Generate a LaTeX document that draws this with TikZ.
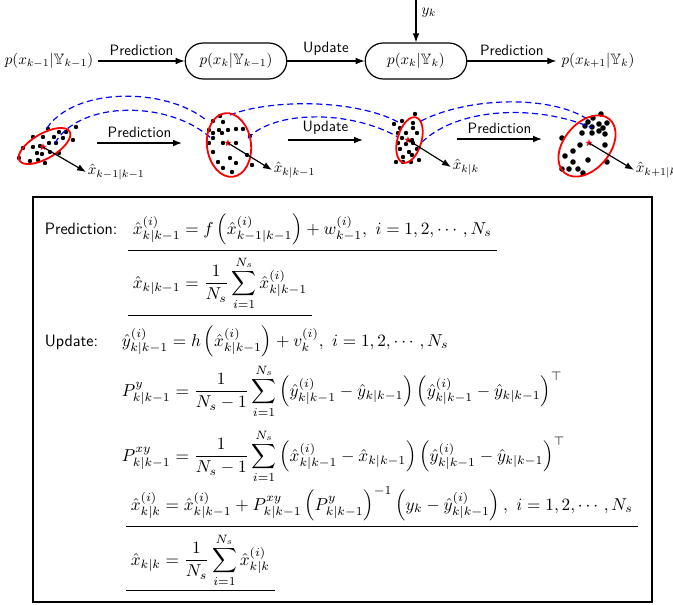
\documentclass[tikz,border=0pt]{standalone}
\usepackage{amsmath,amssymb,graphicx}
\usetikzlibrary{arrows.meta,positioning,shapes.geometric}
\newcommand{\pfmath}[1]{\scalebox{1.15}{$#1$}}

\begin{document}
\begin{tikzpicture}[x=0.667pt,y=-0.667pt,
  pfpdf/.style={draw,thick,rounded corners=12pt,minimum width=67.7pt,minimum height=24pt},
  pfarr/.style={-{Latex[length=6pt,width=4.5pt]},thick},
  pfcloud/.style={red,line width=1.2pt},
  pflink/.style={blue,thick,dash pattern=on 4pt off 2.5pt},
  pfstar/.style={star,star points=5,star point ratio=2.4,fill=red,inner sep=0pt,minimum size=5pt},
  pfword/.style={font=\sffamily},
  pfbig/.style={font=\fontsize{11}{13}\selectfont\sffamily},
  pfeq/.style={anchor=base west,inner sep=1pt},
  pfline/.style={shorten <=-2pt,shorten >=-2pt}
]
  \useasboundingbox (0,0) rectangle (673,605);
  % density chain (top)
  \node (pk1) at (49,61) {$p(x_{k-1}|\mathbb{Y}_{k-1})$};
  \node[pfpdf] (pa) at (236,61) {$p(x_k|\mathbb{Y}_{k-1})$};
  \node[pfpdf] (pb) at (416,61) {$p(x_k|\mathbb{Y}_k)$};
  \node (pk2) at (598,61) {$p(x_{k+1}|\mathbb{Y}_k)$};
  \coordinate (ytop) at (416,0);
  \draw[pfarr] (pk1) -- node[above,pfword] {Prediction} (pa);
  \draw[pfarr] (pa) -- node[above,pfword] {Update} (pb);
  \draw[pfarr] (pb) -- node[above,pfword] {Prediction} (pk2);
  \draw[pfarr] (ytop) -- node[pos=0.3,right] {$y_k$} (pb);

  % particle clouds (middle)
  \foreach \p in {(48,129),(59,132),(66,132),(76,127),(33,137),(43,137),(54,137),(63,138),
    (73,140),(23,148),(33,147),(40,146),(49,143),(56,143),(37,153),(42,154),(50,152),
    (59,153),(30,161),(38,160),(45,163),(19,158)}
    \fill \p circle (2.2);
  \foreach \p in {(220,116),(213,121),(223,122),(209,130),(219,130),(228,130),(236,129),
    (243,129),(213,133),(222,133),(213,138),(250,136),(209,143),(223,143),(236,143),
    (213,152),(230,158),(247,155),(218,162),(236,163),(223,168),(232,172),(252,165)}
    \fill \p circle (2.2);
  \foreach \p in {(415,114),(394,124),(402,121),(413,123),(400,128),(413,128),(398,133),
    (406,133),(417,133),(402,138),(412,140),(398,143),(406,144),(413,143),(400,149),
    (409,152),(417,149),(403,157),(412,155),(396,162),(403,162),(411,162),(419,160)}
    \fill \p circle (2.2);
  \foreach \p in {(601,114),(593,118),(588,122),(599,124),(607,123),(585,126),(592,127),
    (603,128),(582,133),(592,133),(599,131),(605,134),(562,138),(580,145),(605,145),
    (573,151),(565,156),(588,160),(607,162),(573,162),(562,169),(569,169),(578,169),(583,173)}
    \fill \p circle (2.8);

  % particle paths
  \draw[pflink] (47,128) .. controls (75,87) and (165,87) .. (206,120);
  \draw[pflink] (55,143) .. controls (80,100) and (170,100) .. (212,139);
  \draw[pflink] (230,115) .. controls (270,99) and (355,99) .. (398,122);
  \draw[pflink] (248,138) .. controls (275,110) and (350,110) .. (398,137);
  \draw[pflink] (421,121) .. controls (470,96) and (555,95) .. (590,121);
  \draw[pflink] (422,142) .. controls (460,106) and (540,105) .. (592,128);

  % estimates
  \node[pfstar] (s1) at (43,147) {};
  \node[pfstar] (s2) at (228,143) {};
  \node[pfstar] (s3) at (408,140) {};
  \node[pfstar] (s4) at (589,143) {};
  \draw[pfcloud,rotate around={30:(44.5,146)}] (44.5,146) ellipse [x radius=29,y radius=12.4];
  \draw[pfcloud,rotate around={97:(229,145)}] (229,145) ellipse [x radius=32,y radius=22];
  \draw[pfcloud,rotate around={74:(409.5,140)}] (409.5,140) ellipse [x radius=23.5,y radius=12];
  \draw[pfcloud,rotate around={50:(587,146)}] (587,146) ellipse [x radius=35,y radius=23];
  \node[anchor=west,inner sep=1pt] (e1) at (86,172) {$\hat{x}_{k-1|k-1}$};
  \node[anchor=west,inner sep=1pt] (e2) at (272,170) {$\hat{x}_{k|k-1}$};
  \node[anchor=west,inner sep=1pt] (e3) at (451,167) {$\hat{x}_{k|k}$};
  \node[anchor=west,inner sep=1pt] (e4) at (634,170) {$\hat{x}_{k+1|k}$};
  \draw[pfarr] (s1.center) -- (e1.west);
  \draw[pfarr] (s2.center) -- (e2.west);
  \draw[pfarr] (s3.center) -- (e3.west);
  \draw[pfarr] (s4.center) -- (e4.west);
  \coordinate (m1a) at (97,143);  \coordinate (m1b) at (182,143);
  \coordinate (m2a) at (288,140); \coordinate (m2b) at (363,140);
  \coordinate (m3a) at (457,139); \coordinate (m3b) at (542,139);
  \draw[pfarr] (m1a) -- node[above,pfword] {Prediction} (m1b);
  \draw[pfarr] (m2a) -- node[above,pfword] {Update} (m2b);
  \draw[pfarr] (m3a) -- node[above,pfword] {Prediction} (m3b);

  % equations (bottom)
  \draw[thick] (33,197) rectangle (652,602);
  \node[pfeq,pfbig] (wp) at (43,234) {Prediction:};
  \node[pfeq] (eq1) at (131,234)
    {\pfmath{\hat{x}^{(i)}_{k|k-1}=f\left(\hat{x}^{(i)}_{k-1|k-1}\right)+w^{(i)}_{k-1},\ i=1,2,\cdots,N_s}};
  \node[pfeq] (eq2) at (131,288)
    {\pfmath{\displaystyle\hat{x}_{k|k-1}=\frac{1}{N_s}\sum_{i=1}^{N_s}\hat{x}^{(i)}_{k|k-1}}};
  \node[pfeq,pfbig] (wu) at (43,346) {Update:};
  \node[pfeq] (eq3) at (120,346)
    {\pfmath{\hat{y}^{(i)}_{k|k-1}=h\left(\hat{x}^{(i)}_{k|k-1}\right)+v^{(i)}_{k},\ i=1,2,\cdots,N_s}};
  \node[pfeq] (eq4) at (120,396)
    {\pfmath{\displaystyle P^{y}_{k|k-1}=\frac{1}{N_s-1}\sum_{i=1}^{N_s}\left(\hat{y}^{(i)}_{k|k-1}-\hat{y}_{k|k-1}\right)\left(\hat{y}^{(i)}_{k|k-1}-\hat{y}_{k|k-1}\right)^{\top}}};
  \node[pfeq] (eq5) at (120,461)
    {\pfmath{\displaystyle P^{xy}_{k|k-1}=\frac{1}{N_s-1}\sum_{i=1}^{N_s}\left(\hat{x}^{(i)}_{k|k-1}-\hat{x}_{k|k-1}\right)\left(\hat{y}^{(i)}_{k|k-1}-\hat{y}_{k|k-1}\right)^{\top}}};
  \node[pfeq] (eq6) at (129,510)
    {\pfmath{\hat{x}^{(i)}_{k|k}=\hat{x}^{(i)}_{k|k-1}+P^{xy}_{k|k-1}\left(P^{y}_{k|k-1}\right)^{-1}\left(y_k-\hat{y}^{(i)}_{k|k-1}\right),\ i=1,2,\cdots,N_s}};
  \node[pfeq] (eq7) at (129,565)
    {\pfmath{\displaystyle\hat{x}_{k|k}=\frac{1}{N_s}\sum_{i=1}^{N_s}\hat{x}^{(i)}_{k|k}}};
  \draw[pfline] ([yshift=-2pt]eq1.south west) -- ([yshift=-2pt]eq1.south east);
  \draw[pfline] ([yshift=-2pt]eq2.south west) -- ([yshift=-2pt]eq2.south east);
  \draw[pfline] ([yshift=-2.5pt]eq6.south west) -- ([yshift=-2.5pt]eq6.south east);
  \draw[pfline] ([yshift=-1pt]eq7.south west) -- ([yshift=-1pt]eq7.south east);
\end{tikzpicture}
\end{document}
